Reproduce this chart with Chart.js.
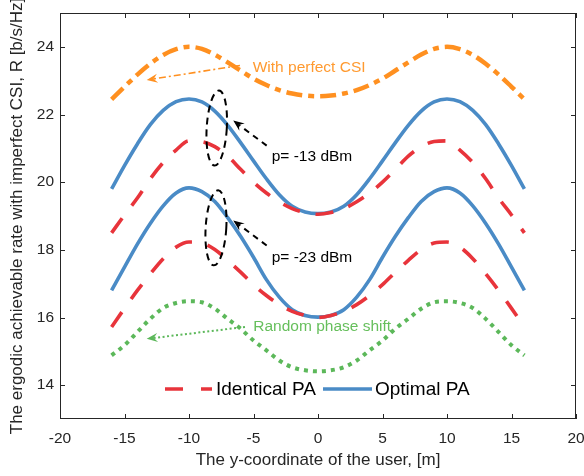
<!DOCTYPE html>
<html>
<head>
<meta charset="utf-8">
<script src="https://cdn.jsdelivr.net/npm/chart.js@4/dist/chart.umd.min.js"></script>
<style>
html,body{margin:0;padding:0;background:#ffffff;}
#wrap{width:584px;height:476px;}
</style>
</head>
<body>
<div id="wrap"><canvas id="c" width="584" height="476"></canvas></div>
<script>
// ---- data ----
const userY = [-16,-15,-14,-13,-12,-11,-10,-9,-8,-7,-6,-5,-4,-3,-2,-1,0,1,2,3,4,5,6,7,8,9,10,11,12,13,14,15,16];
const ratePerfectCSI = [22.45,22.82,23.18,23.5,23.76,23.93,24.0,23.94,23.77,23.54,23.3,23.06,22.87,22.72,22.62,22.56,22.54,22.56,22.62,22.72,22.87,23.06,23.3,23.54,23.77,23.94,24.0,23.93,23.76,23.5,23.18,22.82,22.45];
const optimalPA13 = [19.8,20.49,21.13,21.7,22.12,22.38,22.46,22.37,22.1,21.68,21.17,20.63,20.1,19.63,19.29,19.12,19.07,19.12,19.29,19.63,20.1,20.63,21.17,21.68,22.1,22.37,22.46,22.38,22.12,21.7,21.13,20.49,19.8];
const identicalPA13 = [18.5,19.03,19.53,20.1,20.58,20.95,21.22,21.2,21.05,20.77,20.38,20.0,19.68,19.42,19.22,19.1,19.05,19.1,19.22,19.42,19.68,20.0,20.38,20.77,21.05,21.2,21.22,20.95,20.58,20.1,19.53,19.03,18.5];
const optimalPA23 = [16.8,17.49,18.17,18.78,19.3,19.68,19.83,19.72,19.43,18.95,18.4,17.78,17.12,16.6,16.23,16.06,16.01,16.06,16.23,16.6,17.12,17.78,18.4,18.95,19.43,19.72,19.83,19.68,19.3,18.78,18.17,17.49,16.8];
const identicalPA23 = [15.72,16.27,16.8,17.29,17.74,18.08,18.23,18.2,18.01,17.69,17.34,16.97,16.65,16.38,16.18,16.06,16.0,16.06,16.18,16.38,16.65,16.97,17.34,17.69,18.01,18.2,18.23,18.08,17.74,17.29,16.8,16.27,15.72];
const randomPhase = [14.88,15.18,15.57,15.96,16.28,16.43,16.48,16.45,16.26,15.96,15.67,15.32,15.03,14.73,14.53,14.44,14.41,14.44,14.53,14.73,15.03,15.32,15.67,15.96,16.26,16.45,16.48,16.43,16.28,15.96,15.57,15.18,14.88];
const xTicks = [-20,-15,-10,-5,0,5,10,15,20];
const yTicks = [14,16,18,20,22,24];
const legendLabels = ['Identical PA','Optimal PA'];

// annotation anchors in data units
const perfectArrow = {from:[-6.05,23.45], to:[-13.28,23.02], text:'With perfect CSI', textAt:[-5.06,23.39]};
const randomArrow = {from:[-5.66,15.72], to:[-13.28,15.37], text:'Random phase shift', textAt:[-5.02,15.72]};
const pArrows = [
  {from:[-3.98,21.08], to:[-6.57,21.82], text:'p= -13 dBm', textAt:[-3.59,20.74], ell:[-7.85,21.6,0.78,1.11]},
  {from:[-3.98,18.13], to:[-6.57,18.87], text:'p= -23 dBm', textAt:[-3.59,17.78], ell:[-7.91,18.65,0.8,1.11]}
];

const FONT = '"Liberation Sans", Arial, Helvetica, sans-serif';
const AX = '#262626';
const BLUE = '#4a8bc6', RED = '#e8343b', ORANGE = '#ff9020', GREEN = '#5cb85a';

const pts = arr => arr.map((v,i)=>({x:userY[i], y:v}));

function arrow(ctx, x1,y1,x2,y2,color,lw,dash){
  const a = Math.atan2(y2-y1, x2-x1), c=Math.cos(a), s=Math.sin(a);
  const L=11, W=4.5, N=7;
  ctx.save();
  ctx.strokeStyle=color; ctx.fillStyle=color; ctx.lineWidth=lw; ctx.setLineDash(dash);
  ctx.beginPath(); ctx.moveTo(x1,y1); ctx.lineTo(x2-N*c, y2-N*s); ctx.stroke();
  ctx.setLineDash([]);
  ctx.beginPath(); ctx.moveTo(x2,y2);
  ctx.lineTo(x2-L*c+W*s, y2-L*s-W*c);
  ctx.lineTo(x2-N*c, y2-N*s);
  ctx.lineTo(x2-L*c-W*s, y2-L*s+W*c);
  ctx.closePath(); ctx.fill();
  ctx.restore();
}

const framePlugin = {
  id:'frame',
  afterDraw(chart){
    const {ctx, chartArea:{left,right,top,bottom}, scales:{x,y}} = chart;
    const X = v=>x.getPixelForValue(v), Y = v=>y.getPixelForValue(v);
    ctx.save();
    // annotations
    arrow(ctx, X(perfectArrow.from[0]),Y(perfectArrow.from[1]),X(perfectArrow.to[0]),Y(perfectArrow.to[1]), ORANGE, 1.6, [7,3,2,3]);
    arrow(ctx, X(randomArrow.from[0]),Y(randomArrow.from[1]),X(randomArrow.to[0]),Y(randomArrow.to[1]), GREEN, 2, [2,2.5]);
    pArrows.forEach(p=>{
      arrow(ctx, X(p.from[0]),Y(p.from[1]),X(p.to[0]),Y(p.to[1]), '#000', 2, [6,5]);
      const [cx,cy,rx,ry]=p.ell;
      ctx.save(); ctx.strokeStyle='#000'; ctx.lineWidth=2; ctx.setLineDash([7,5]);
      ctx.beginPath();
      ctx.ellipse(X(cx),Y(cy), Math.abs(X(cx+rx)-X(cx)), Math.abs(Y(cy+ry)-Y(cy)), 0.06, 0, Math.PI*2);
      ctx.stroke(); ctx.restore();
    });
    ctx.textBaseline='middle'; ctx.textAlign='left';
    ctx.font = '15.5px '+FONT;
    ctx.fillStyle='#ff9a30'; ctx.fillText(perfectArrow.text, X(perfectArrow.textAt[0]), Y(perfectArrow.textAt[1]));
    ctx.fillStyle='#66bf5c'; ctx.fillText(randomArrow.text, X(randomArrow.textAt[0]), Y(randomArrow.textAt[1]));
    ctx.fillStyle='#000';
    pArrows.forEach(p=>ctx.fillText(p.text, X(p.textAt[0]), Y(p.textAt[1])));

    // legend
    const ly = bottom-30;
    ctx.lineWidth=3.6;
    ctx.strokeStyle=RED; ctx.setLineDash([18,18]);
    ctx.beginPath(); ctx.moveTo(left+105,ly); ctx.lineTo(left+152,ly); ctx.stroke();
    ctx.setLineDash([]);
    ctx.strokeStyle=BLUE;
    ctx.beginPath(); ctx.moveTo(left+263,ly); ctx.lineTo(left+312,ly); ctx.stroke();
    ctx.font='19px '+FONT; ctx.fillStyle='#000';
    ctx.fillText(legendLabels[0], left+156, ly+1);
    ctx.fillText(legendLabels[1], left+315, ly+1);

    // frame and inward ticks
    ctx.strokeStyle=AX; ctx.lineWidth=1; ctx.setLineDash([]);
    ctx.strokeRect(left+0.5, top+0.5, right-left-1, bottom-top-1);
    ctx.beginPath();
    xTicks.forEach(v=>{
      const px=Math.round(X(v))+0.5;
      ctx.moveTo(px,bottom); ctx.lineTo(px,bottom-5);
      ctx.moveTo(px,top); ctx.lineTo(px,top+5);
    });
    yTicks.forEach(v=>{
      const py=Math.round(Y(v))+0.5;
      ctx.moveTo(left,py); ctx.lineTo(left+5,py);
      ctx.moveTo(right,py); ctx.lineTo(right-5,py);
    });
    ctx.stroke();
    ctx.restore();
  }
};

const common = {pointRadius:0, fill:false, cubicInterpolationMode:'monotone', borderCapStyle:'butt'};
new Chart(document.getElementById('c'), {
  type:'line',
  data:{datasets:[
    {...common, label:'With perfect CSI', data:pts(ratePerfectCSI), borderColor:ORANGE, borderWidth:4.5, borderDash:[16,6,6,6]},
    {...common, label:'Identical PA -13', data:pts(identicalPA13), borderColor:RED, borderWidth:3.6, borderDash:[18,16]},
    {...common, label:'Optimal PA -13', data:pts(optimalPA13), borderColor:BLUE, borderWidth:3.6},
    {...common, label:'Identical PA -23', data:pts(identicalPA23), borderColor:RED, borderWidth:3.6, borderDash:[18,16]},
    {...common, label:'Optimal PA -23', data:pts(optimalPA23), borderColor:BLUE, borderWidth:3.6},
    {...common, label:'Random phase shift', data:pts(randomPhase), borderColor:GREEN, borderWidth:4, borderDash:[4,5]}
  ]},
  options:{
    responsive:false, animation:false,
    layout:{padding:{top:13,right:8,left:0,bottom:0}},
    plugins:{legend:{display:false}, tooltip:{enabled:false}},
    scales:{
      x:{type:'linear', min:-20, max:20,
        afterBuildTicks(s){ s.ticks = xTicks.map(v=>({value:v})); },
        afterFit(s){ s.height = 57; s.paddingLeft = 0; s.paddingRight = 0; },
        ticks:{font:{family:FONT,size:15.5}, color:AX, padding:10, maxRotation:0, autoSkip:false},
        grid:{display:false, drawTicks:false}, border:{display:false},
        title:{display:true, text:'The y-coordinate of the user, [m]', font:{family:FONT,size:17}, color:AX, padding:{top:0,bottom:5}}
      },
      y:{type:'linear', min:13, max:25,
        afterBuildTicks(s){ s.ticks = yTicks.map(v=>({value:v})); },
        afterFit(s){ s.width = 60; s.paddingTop = 0; s.paddingBottom = 0; },
        ticks:{font:{family:FONT,size:15.5}, color:AX, padding:6},
        grid:{display:false, drawTicks:false}, border:{display:false},
        title:{display:true, text:'The ergodic achievable rate with imperfect CSI, R [b/s/Hz]', font:{family:FONT,size:17}, color:AX, padding:{top:7,bottom:0}}
      }
    }
  },
  plugins:[framePlugin]
});
</script>
</body>
</html>
